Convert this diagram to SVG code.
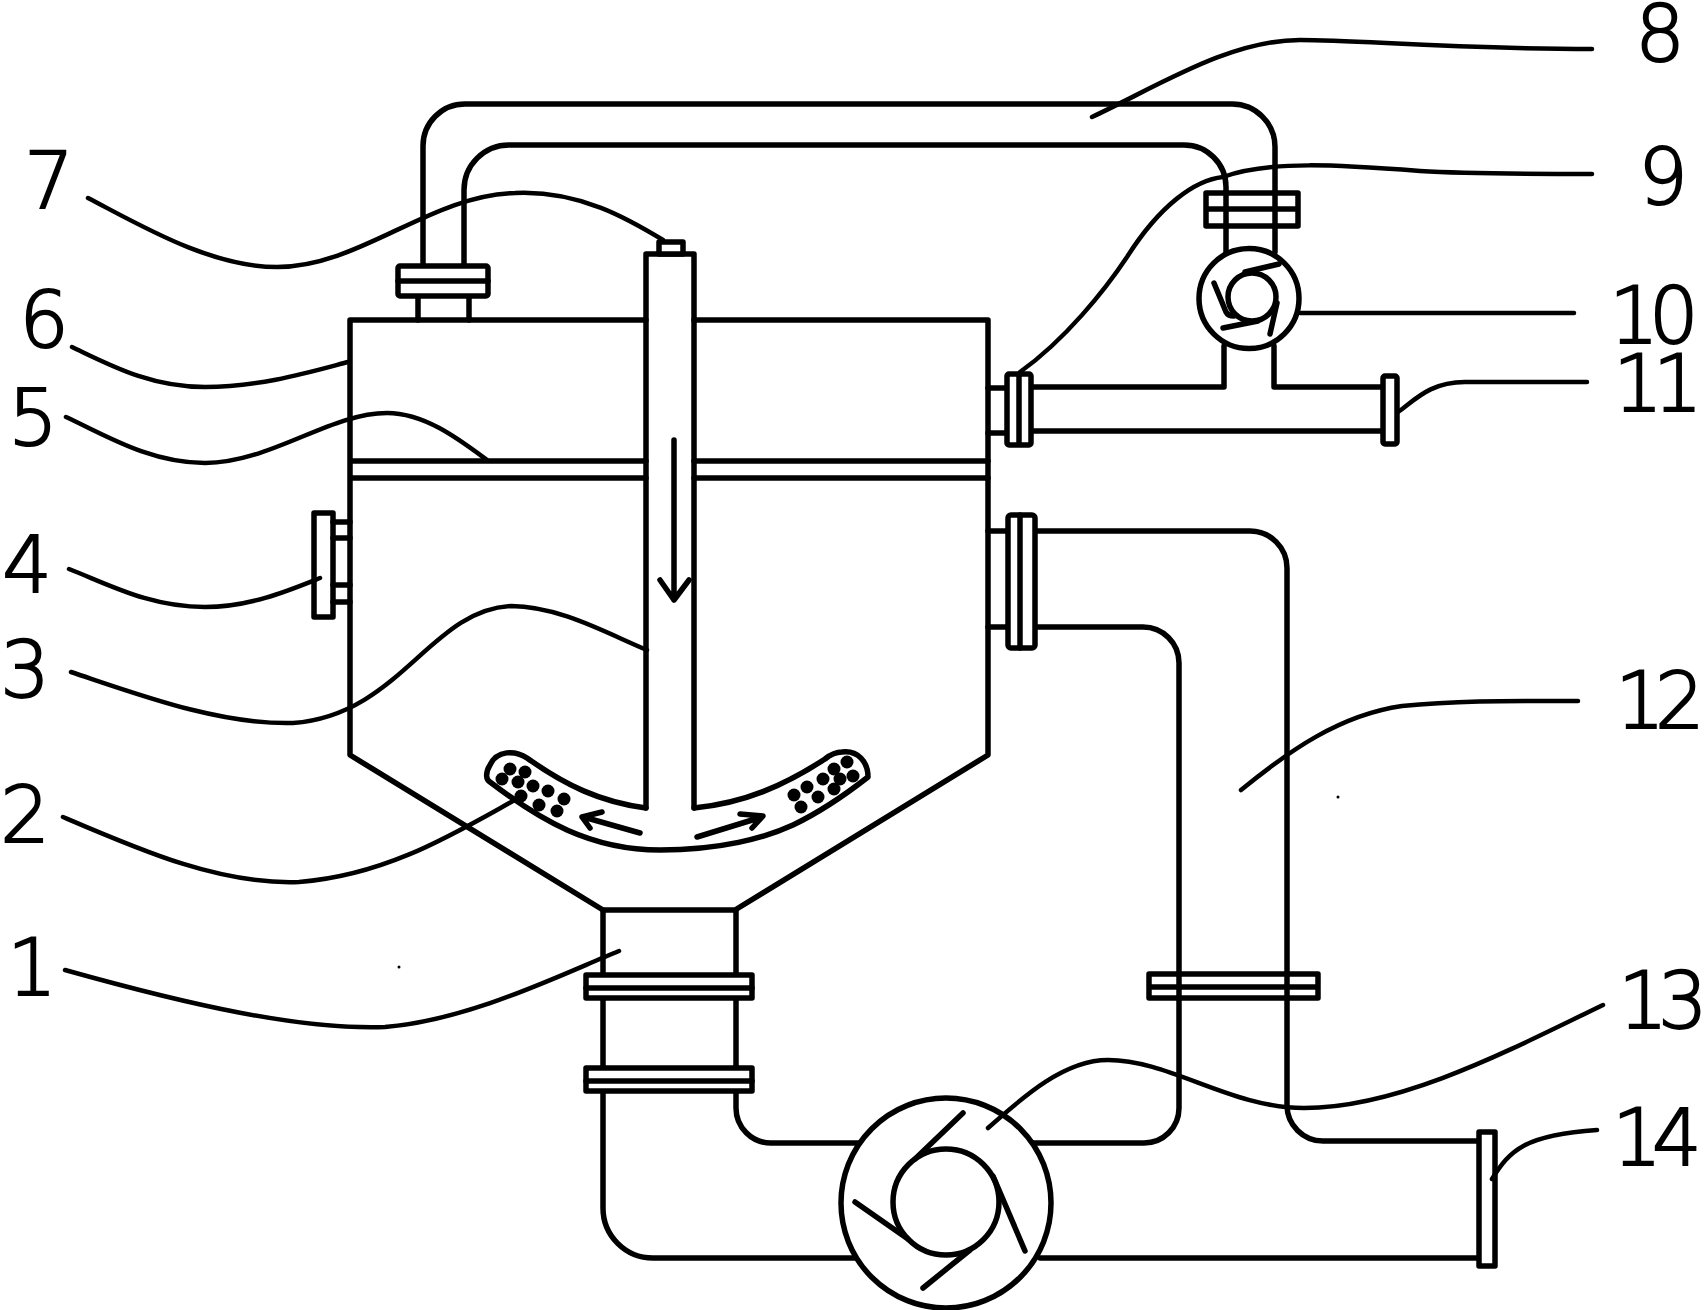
<svg xmlns="http://www.w3.org/2000/svg" width="1704" height="1310" viewBox="0 0 1704 1310">
<style>
.l{fill:none;stroke:#000;stroke-width:5.5;stroke-linecap:round;stroke-linejoin:round}
.k{fill:#fff;stroke:#000;stroke-width:5.500;stroke-linejoin:round}
.t{fill:none;stroke:#000;stroke-width:4.500;stroke-linecap:round}
.d{fill:#000}
text{font-family:"DejaVu Sans","Liberation Sans",sans-serif;font-weight:200;font-size:78px;text-anchor:middle;fill:#000;stroke:#000;stroke-width:2px}
.w{letter-spacing:-10px}
</style>
<rect width="1704" height="1310" fill="#fff"/>
<g id="pipes">
<path class="l" d="M423 266V146A42 42 0 0 1 465 104H1232A43 43 0 0 1 1275 147V252"/>
<path class="l" d="M464 266V190A45 45 0 0 1 509 145H1184A42 42 0 0 1 1226 187V252"/>
<path class="l" d="M1224 346V387H1031M1274 346V387H1383M1031 431H1383"/>
<path class="l" d="M988 388H1007M988 433H1007"/>
<path class="l" d="M1035 531H1250A37 37 0 0 1 1287 568V1105A36 36 0 0 0 1323 1141H1479"/>
<path class="l" d="M1035 627H1143A36 36 0 0 1 1179 663V1108A35 35 0 0 1 1144 1143H1033"/>
<path class="l" d="M1040 1258H1480"/>
<path class="l" d="M988 531H1008M988 627H1008"/>
<path class="l" d="M603 910V1208A50 50 0 0 0 653 1258H858"/>
<path class="l" d="M736 910V1108A35 35 0 0 0 771 1143H858"/>
</g>
<g id="vessel">
<path class="l" d="M646 320H350V755L603 910H735L988 755V320H694"/>
<path class="l" d="M352 461H646M352 478H646M694 461H988M694 478H988"/>
<path class="l" d="M418 296V320M469 296V320"/>
</g>
<g id="shaft">
<path class="l" d="M646 808V254H694V808"/>
<rect class="k" x="659" y="242" width="24" height="12"/>
<path class="l" d="M674 440V600M660 580L674 600L689 580"/>
</g>
<g id="impeller">
<path class="l" d="M646 808C600 802 565 785 527 758C515 750 497 750 490 765C485 773 486 780 490 782C540 820 590 850 660 850C720 850 765 838 793 825C820 812 845 795 868 777C868 762 858 750 842 752C835 752 830 755 825 759C785 785 745 803 694 808"/>
<circle class="d" cx="510" cy="769" r="6.500"/><circle class="d" cx="502" cy="779" r="6.500"/><circle class="d" cx="518" cy="782" r="6.500"/><circle class="d" cx="525" cy="772" r="6.500"/><circle class="d" cx="533" cy="786" r="6.500"/><circle class="d" cx="548" cy="791" r="6.500"/><circle class="d" cx="521" cy="796" r="6.500"/><circle class="d" cx="539" cy="805" r="6.500"/><circle class="d" cx="564" cy="799" r="6.500"/><circle class="d" cx="557" cy="811" r="6.500"/>
<circle class="d" cx="847" cy="762" r="6.500"/><circle class="d" cx="834" cy="769" r="6.500"/><circle class="d" cx="853" cy="776" r="6.500"/><circle class="d" cx="840" cy="779" r="6.500"/><circle class="d" cx="823" cy="779" r="6.500"/><circle class="d" cx="834" cy="789" r="6.500"/><circle class="d" cx="807" cy="787" r="6.500"/><circle class="d" cx="794" cy="795" r="6.500"/><circle class="d" cx="818" cy="797" r="6.500"/><circle class="d" cx="801" cy="807" r="6.500"/>
<path class="l" d="M640 833L587 818M602 812L582 817L590 828"/>
<path class="l" d="M697 837L762 817M740 814L763 816L752 828"/>
</g>
<g id="flanges">
<g id="flange-top"><rect class="k" x="398" y="266" width="90" height="30" rx="2"/><path class="l" d="M398 281H488"/></g>
<g id="flange-8"><path class="l" d="M1206 193H1298V226H1206ZM1206 209H1298"/></g>
<g id="flange-9"><rect class="k" x="1007" y="374" width="24" height="71" rx="2"/><path class="l" d="M1019 376V443"/></g>
<g id="flange-11"><rect class="k" x="1383" y="376" width="14" height="68" rx="2"/></g>
<g id="flange-4"><rect class="k" x="314" y="513" width="19" height="104"/><path class="l" d="M333 522H350M333 538H350M333 585H350M333 602H350"/></g>
<g id="flange-12"><rect class="k" x="1008" y="515" width="27" height="133" rx="3"/><path class="l" d="M1020 515V648"/></g>
<g id="flange-1a"><rect class="k" x="586" y="975" width="166" height="23"/><path class="l" d="M586 988H752"/></g>
<g id="flange-1b"><rect class="k" x="586" y="1068" width="166" height="23"/><path class="l" d="M586 1081H752"/></g>
<g id="flange-mid"><path class="l" d="M1149 974H1318V998H1149ZM1149 987H1318"/></g>
<g id="flange-14"><rect class="k" x="1479" y="1132" width="16" height="134"/></g>
</g>
<g id="pump-10">
<circle class="k" cx="1249" cy="298.500" r="50"/>
<circle class="l" cx="1252" cy="297" r="24"/>
<path class="l" d="M1214 283L1226 312Q1228 316 1234 316M1223 328L1258 321M1270 334L1277 303M1279 264L1245 272"/>
</g>
<g id="pump-13">
<circle class="k" cx="946" cy="1203" r="105"/>
<circle class="l" cx="946" cy="1202" r="53"/>
<path class="l" d="M963 1113L915 1159M855 1202L908 1239M923 1288L970 1250M1025 1251L993 1176"/>
</g>
<g id="connectors">
<path class="t" d="M65 970C190 1005 300 1030 385 1027C470 1020 560 975 619 951"/>
<path class="t" d="M63 817C140 850 220 885 299 882C390 875 460 830 522 796"/>
<path class="t" d="M71 672C140 695 220 725 293 723C400 715 430 610 511 606C560 606 610 635 647 650"/>
<path class="t" d="M69 569C110 585 150 607 205 607C250 607 290 590 320 578"/>
<path class="t" d="M66 417C105 435 150 463 205 463C270 463 330 413 387 413C425 413 460 440 487 460"/>
<path class="t" d="M72 347C110 365 150 387 205 387C260 387 310 372 348 362"/>
<path class="t" d="M88 198C140 225 210 267 277 267C360 267 430 195 515 193C580 190 630 220 663 240"/>
<path class="t" d="M1092 117C1160 85 1230 40 1300 40C1360 40 1450 49 1592 49"/>
<path class="t" d="M1020 372C1065 340 1105 290 1127 257C1160 205 1195 180 1223 177C1270 160 1340 165 1420 171C1470 174 1530 174 1592 174"/>
<path class="t" d="M1300 313H1574"/>
<path class="t" d="M1398 412C1415 400 1430 382 1465 382H1587"/>
<path class="t" d="M1241 790C1290 750 1340 715 1402 706C1460 700 1520 701 1578 701"/>
<path class="t" d="M988 1128C1025 1095 1065 1060 1108 1060C1170 1060 1230 1108 1304 1108C1400 1108 1510 1050 1603 1005"/>
<path class="t" d="M1492 1179C1510 1150 1525 1135 1597 1130"/>
</g>
<g id="labels">
<text x="32" y="995">1</text><text x="25" y="842">2</text><text x="25" y="697">3</text><text x="27" y="592">4</text><text x="33" y="445">5</text><text x="44" y="347">6</text><text x="49" y="208">7</text>
<text x="1660" y="61">8</text><text x="1663" y="204">9</text><text class="w" x="1649" y="343">10</text><text class="w" x="1653" y="411">11</text><text class="w" x="1655" y="728">12</text><text class="w" x="1658" y="1028">13</text><text class="w" x="1652" y="1165">14</text>
</g>
<circle class="d" cx="399" cy="967" r="1.500"/><circle class="d" cx="1338" cy="797" r="1.500"/>
</svg>
